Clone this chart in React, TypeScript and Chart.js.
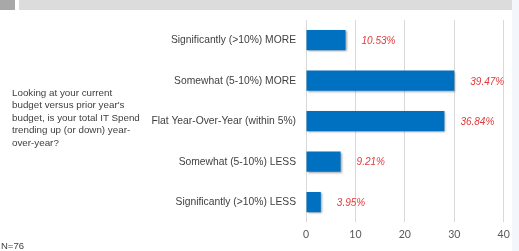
import React, { useEffect, useRef } from "react";
import { Chart, registerables } from "chart.js";

Chart.register(...registerables);

const categories = [
  "Significantly (>10%) MORE",
  "Somewhat (5-10%) MORE",
  "Flat Year-Over-Year (within 5%)",
  "Somewhat (5-10%) LESS",
  "Significantly (>10%) LESS",
];
const counts = [8, 30, 28, 7, 3];
const percentLabels = ["10.53%", "39.47%", "36.84%", "9.21%", "3.95%"];
const xTicks = [0, 10, 20, 30, 40];
const questionLines = [
  "Looking at your current",
  "budget versus prior year's",
  "budget, is your total IT Spend",
  "trending up (or down) year-",
  "over-year?",
];
const sampleNote = "N=76";

const shadowPlugin = {
  id: "barShadow",
  beforeDatasetsDraw(chart: any) {
    const ctx = chart.ctx;
    ctx.save();
    ctx.shadowColor = "rgba(0,0,0,0.35)";
    ctx.shadowBlur = 2;
    ctx.shadowOffsetX = 1;
    ctx.shadowOffsetY = 1;
  },
  afterDatasetsDraw(chart: any) {
    chart.ctx.restore();
  },
};

const valueLabelPlugin = {
  id: "valueLabels",
  afterDatasetsDraw(chart: any) {
    const ctx = chart.ctx;
    const meta = chart.getDatasetMeta(0);
    ctx.save();
    ctx.font = "italic 10px 'Liberation Sans', Arial, sans-serif";
    ctx.fillStyle = "#e03a3a";
    ctx.textAlign = "left";
    ctx.textBaseline = "middle";
    meta.data.forEach((bar: any, i: number) => {
      ctx.fillText(percentLabels[i], bar.x + 16, bar.y + 1);
    });
    ctx.restore();
  },
};

export default function App() {
  const canvasRef = useRef<HTMLCanvasElement | null>(null);

  useEffect(() => {
    if (!canvasRef.current) return;
    const chart = new Chart(canvasRef.current, {
      type: "bar",
      data: {
        labels: categories,
        datasets: [
          {
            data: counts,
            backgroundColor: "#0070c0",
            borderWidth: 0,
            categoryPercentage: 1,
            barPercentage: 0.5,
          },
        ],
      },
      options: {
        indexAxis: "y",
        animation: false,
        responsive: false,
        maintainAspectRatio: false,
        events: [],
        layout: { padding: { top: 20, right: 15.3, bottom: 4, left: 0 } },
        plugins: {
          legend: { display: false },
          tooltip: { enabled: false },
          title: { display: false },
        },
        scales: {
          x: {
            min: 0,
            max: 40,
            afterBuildTicks(scale: any) {
              scale.ticks = xTicks.map((v) => ({ value: v }));
            },
            grid: { color: "#d9d9d9", drawTicks: false, lineWidth: 1 },
            border: { display: false },
            ticks: {
              padding: 6,
              color: "#595959",
              font: { family: "Lato, 'Liberation Sans', sans-serif", size: 10.5 },
            },
          },
          y: {
            afterFit(scale: any) {
              scale.width = 306;
            },
            grid: { display: false, drawTicks: false },
            border: { display: false },
            ticks: {
              padding: 10,
              color: "#404040",
              font: { family: "'Liberation Sans', Arial, sans-serif", size: 10.3 },
            },
          },
        },
      },
      plugins: [shadowPlugin, valueLabelPlugin],
    } as any);
    return () => chart.destroy();
  }, []);

  return (
    <div
      style={{
        position: "fixed",
        left: 0,
        top: 0,
        width: 519,
        height: 251,
        background: "#ffffff",
        overflow: "hidden",
      }}
    >
      <div style={{ position: "absolute", left: 0, top: 0, width: 15, height: 10, background: "#a8a8a8" }} />
      <div style={{ position: "absolute", left: 19, top: 0, width: 493, height: 10, background: "#dcdcdc" }} />
      <div style={{ position: "absolute", left: 512, top: 0, width: 7, height: 251, background: "#f3f7fb" }} />
      <canvas ref={canvasRef} width={519} height={251} style={{ position: "absolute", left: 0, top: 0 }} />
      <div
        style={{
          position: "absolute",
          left: 12,
          top: 86.5,
          fontFamily: "'Liberation Sans', Arial, sans-serif",
          fontSize: 9.8,
          lineHeight: "12.5px",
          color: "#404040",
          whiteSpace: "nowrap",
        }}
      >
        {questionLines.map((l, i) => (
          <div key={i}>{l}</div>
        ))}
      </div>
      <div
        style={{
          position: "absolute",
          left: 1,
          top: 239.5,
          fontFamily: "'Liberation Sans', Arial, sans-serif",
          fontSize: 9.5,
          lineHeight: "12px",
          color: "#404040",
        }}
      >
        {sampleNote}
      </div>
    </div>
  );
}
